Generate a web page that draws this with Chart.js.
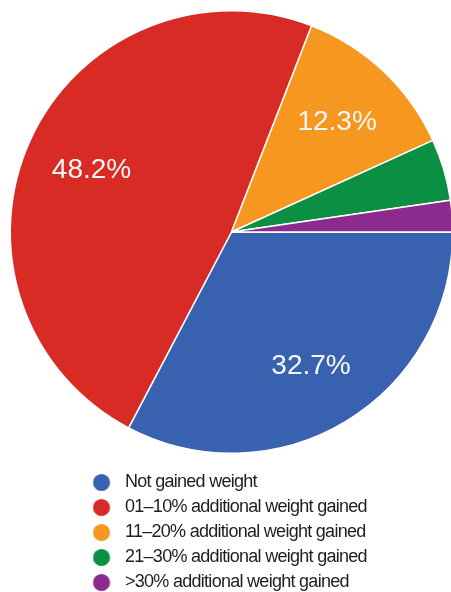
<!DOCTYPE html>
<html>
<head>
<meta charset="utf-8">
<script src="https://cdn.jsdelivr.net/npm/chart.js@4/dist/chart.umd.min.js"></script>
<style>
  html, body { margin: 0; padding: 0; background: #ffffff; overflow: hidden; }
  canvas { display: block; }
</style>
</head>
<body>
<canvas id="pie" width="464" height="592"></canvas>
<script>
// Share of respondents by weight gained
const categories = [
  'Not gained weight',
  '01\u201310% additional weight gained',
  '11\u201320% additional weight gained',
  '21\u201330% additional weight gained',
  '>30% additional weight gained'
];
const shares = [32.7, 48.2, 12.3, 4.5, 2.3];
const sliceColors = ['#3862AF', '#D92B26', '#F6971F', '#0B8F43', '#8B2B8E'];
const minLabelledShare = 10;

const legendFont = '"Liberation Sans", Arial, sans-serif';

// round legend markers, drawn left of the marker box so the text sits a little further away
function legendDot(color) {
  const c = document.createElement('canvas');
  c.width = 29; c.height = 20;
  const g = c.getContext('2d');
  g.fillStyle = color;
  g.beginPath();
  g.arc(9, 10.5, 8.6, 0, Math.PI * 2);
  g.fill();
  return c;
}
const dots = sliceColors.map(legendDot);

// tighter letter spacing for the legend text (condensed look)
const condensedLegend = {
  id: 'condensedLegend',
  beforeDraw(chart) { chart.ctx.letterSpacing = '-0.72px'; },
  beforeDatasetsDraw(chart) { chart.ctx.letterSpacing = '0px'; }
};

// percentage text inside the larger slices
const sliceLabels = {
  id: 'sliceLabels',
  afterDatasetsDraw(chart) {
    const ctx = chart.ctx;
    const meta = chart.getDatasetMeta(0);
    const values = chart.data.datasets[0].data;
    ctx.save();
    ctx.letterSpacing = '0px';
    ctx.font = '28px "Liberation Sans", Arial, sans-serif';
    ctx.fillStyle = '#f6f6f6';
    ctx.textAlign = 'center';
    ctx.textBaseline = 'alphabetic';
    meta.data.forEach((arc, i) => {
      if (values[i] < minLabelledShare) return;
      const p = arc.getProps(['x', 'y', 'startAngle', 'endAngle', 'outerRadius'], true);
      const mid = (p.startAngle + p.endAngle) / 2;
      const r = p.outerRadius * 0.695;
      ctx.fillText(values[i].toFixed(1) + '%', p.x + Math.cos(mid) * r, p.y + Math.sin(mid) * r + 10);
    });
    ctx.restore();
  }
};

// legend sits under the pie, as a single left-aligned column
const legendPlacement = {
  id: 'legendPlacement',
  afterLayout(chart) {
    const lg = chart.legend;
    if (!lg) return;
    lg.left = 91;
    lg.top = 466;
    lg.right = chart.width;
    lg.bottom = chart.height + 60;
    lg.width = lg.right - lg.left;
    lg.height = lg.bottom - lg.top;
  }
};

new Chart(document.getElementById('pie'), {
  type: 'pie',
  data: {
    labels: categories,
    datasets: [{
      data: shares,
      backgroundColor: sliceColors,
      borderColor: '#ffffff',
      borderWidth: 1.5
    }]
  },
  options: {
    responsive: false,
    animation: false,
    devicePixelRatio: 1,
    events: [],
    rotation: 90,
    layout: { padding: { top: 10, left: 9, right: 10, bottom: 138 } },
    plugins: {
      tooltip: { enabled: false },
      legend: {
        display: true,
        position: 'chartArea',
        align: 'start',
        labels: {
          usePointStyle: true,
          boxWidth: 18,
          boxHeight: 18,
          padding: 7,
          color: '#1e1e1e',
          font: { family: legendFont, size: 18 },
          generateLabels(chart) {
            return chart.data.labels.map((text, i) => ({
              text,
              fillStyle: sliceColors[i],
              strokeStyle: sliceColors[i],
              lineWidth: 0,
              pointStyle: dots[i],
              fontColor: '#1e1e1e',
              hidden: !chart.getDataVisibility(i),
              index: i
            }));
          }
        }
      }
    }
  },
  plugins: [condensedLegend, sliceLabels, legendPlacement]
});
</script>
</body>
</html>
